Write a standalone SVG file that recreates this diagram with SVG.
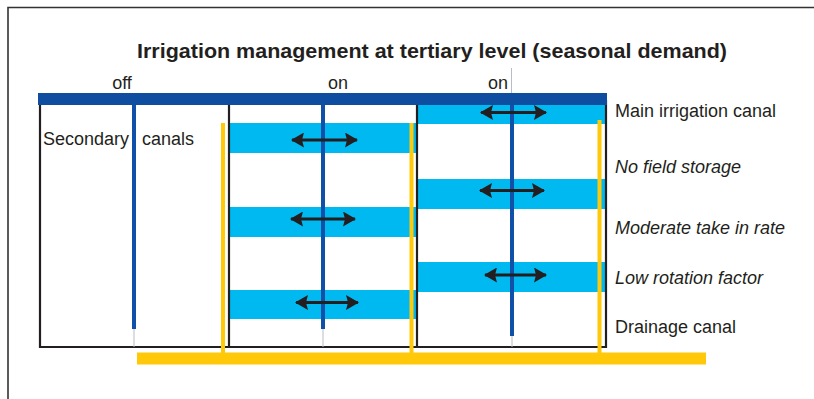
<svg xmlns="http://www.w3.org/2000/svg" width="814" height="399" viewBox="0 0 814 399">
  <defs>
    <style>
      .frame { fill: none; stroke: #333; stroke-width: 1.6; }
      .box { fill: none; stroke: #231f20; stroke-width: 2.2; }
      .band { fill: #00b9f0; }
      .main { fill: #0e4da0; }
      .sec { stroke: #1150a8; stroke-width: 4; }
      .tail { stroke: #b8bcc8; stroke-width: 1; }
      .drain { stroke: #ffc90a; stroke-width: 4; }
      .arrow { stroke: #231f20; stroke-width: 3.2; marker-start: url(#headL); marker-end: url(#headR); }
      .lbl { font-family: "Liberation Sans", Arial, sans-serif; font-size: 18px; fill: #231f20; }
      .it { font-style: italic; }
      .title { font-family: "Liberation Sans", Arial, sans-serif; font-size: 21px; font-weight: bold; fill: #231f20; }
    </style>
    <marker id="headR" viewBox="0 0 13 15" refX="12" refY="7.5" markerWidth="13" markerHeight="15" markerUnits="userSpaceOnUse" orient="auto">
      <path d="M0,0 L13,7.5 L0,15 L2,7.5 Z" fill="#231f20"/>
    </marker>
    <marker id="headL" viewBox="0 0 13 15" refX="1" refY="7.5" markerWidth="13" markerHeight="15" markerUnits="userSpaceOnUse" orient="auto">
      <path d="M13,0 L0,7.5 L13,15 L11,7.5 Z" fill="#231f20"/>
    </marker>
  </defs>

  <rect width="814" height="399" fill="#ffffff"/>

  <!-- outer frame -->
  <path class="frame" d="M8,399 V7.5 H814"/>

  <!-- title -->
  <text class="title" x="432" y="58" text-anchor="middle" textLength="590" lengthAdjust="spacingAndGlyphs">Irrigation management at tertiary level (seasonal demand)</text>

  <!-- gate states -->
  <g id="states" class="lbl">
    <text x="122" y="89" text-anchor="middle">off</text>
    <text x="338" y="89" text-anchor="middle">on</text>
    <text x="498" y="89" text-anchor="middle">on</text>
  </g>
  <line class="tail" x1="511.5" y1="68" x2="511.5" y2="93"/>

  <!-- tertiary unit 1 (closed) -->
  <g id="unit1">
    <path class="box" d="M40,105 V347 H228"/>
    <text class="lbl" x="43" y="145">Secondary</text>
    <text class="lbl" x="142" y="145">canals</text>
  </g>

  <!-- tertiary unit 2 -->
  <g id="unit2">
    <rect class="band" x="230" y="123" width="186" height="30"/>
    <rect class="band" x="230" y="207" width="186" height="30"/>
    <rect class="band" x="230" y="290" width="186" height="29"/>
    <path class="box" d="M229,105 V347 H416"/>
  </g>

  <!-- tertiary unit 3 -->
  <g id="unit3">
    <rect class="band" x="418" y="105" width="188" height="19"/>
    <rect class="band" x="418" y="179" width="188" height="30"/>
    <rect class="band" x="418" y="262" width="188" height="30"/>
    <path class="box" d="M417,105 V347 H606 V100"/>
  </g>

  <!-- main irrigation canal -->
  <g id="main-canal">
    <rect class="main" x="38" y="93" width="569" height="12"/>
  </g>

  <!-- secondary canals -->
  <g id="secondary-canals">
    <line class="tail" x1="134" y1="329" x2="134" y2="347"/>
    <line class="tail" x1="323" y1="329" x2="323" y2="347"/>
    <line class="tail" x1="512" y1="335" x2="512" y2="347"/>
    <line class="sec" x1="134" y1="105" x2="134" y2="329"/>
    <line class="sec" x1="323" y1="105" x2="323" y2="329"/>
    <line class="sec" x1="512" y1="105" x2="512" y2="336"/>
  </g>

  <!-- drainage canal -->
  <g id="drainage-canal">
    <line class="drain" x1="223" y1="123" x2="223" y2="353"/>
    <line class="drain" x1="411.5" y1="123" x2="411.5" y2="353"/>
    <line class="drain" x1="599.5" y1="120" x2="599.5" y2="353"/>
    <rect x="137" y="352.5" width="569" height="12" fill="#ffc90a"/>
  </g>

  <!-- flow arrows -->
  <g id="connectors">
    <line class="arrow" x1="292" y1="140" x2="357" y2="140"/>
    <line class="arrow" x1="291" y1="219" x2="355" y2="219"/>
    <line class="arrow" x1="296" y1="302.5" x2="358" y2="302.5"/>
    <line class="arrow" x1="481" y1="112.5" x2="546" y2="112.5"/>
    <line class="arrow" x1="480" y1="190.5" x2="544" y2="190.5"/>
    <line class="arrow" x1="485" y1="275" x2="546" y2="275"/>
  </g>

  <!-- legend -->
  <g id="legend" class="lbl">
    <text x="615" y="117">Main irrigation canal</text>
    <text class="it" x="615" y="173">No field storage</text>
    <text class="it" x="615" y="234">Moderate take in rate</text>
    <text class="it" x="615" y="284">Low rotation factor</text>
    <text x="615" y="333">Drainage canal</text>
  </g>
</svg>
